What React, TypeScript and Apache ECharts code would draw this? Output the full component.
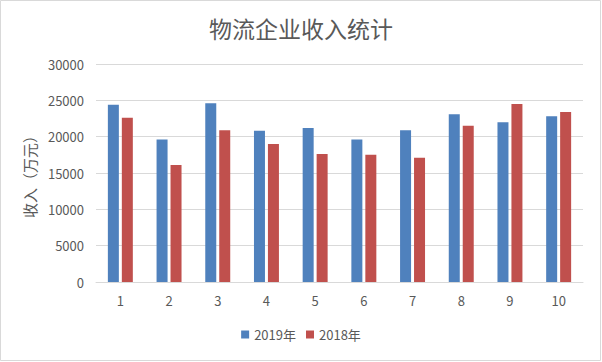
import React, { useEffect, useRef } from "react";
import * as echarts from "echarts";

const categories = ["1", "2", "3", "4", "5", "6", "7", "8", "9", "10"];
const series2019 = [24400, 19600, 24600, 20800, 21200, 19600, 20900, 23100, 22000, 22800];
const series2018 = [22600, 16100, 20900, 19000, 17600, 17500, 17100, 21500, 24500, 23400];
const seriesNames = ["2019年", "2018年"];
const titleText = "物流企业收入统计";
const yAxisName = "收入（万元）";

const FONT = "'Noto Sans CJK SC', 'Microsoft YaHei', sans-serif";

export default function App() {
  const ref = useRef<HTMLDivElement>(null);
  useEffect(() => {
    if (!ref.current) return;
    const chart = echarts.init(ref.current, null, { renderer: "svg" });
    chart.setOption({
      animation: false,
      backgroundColor: "#ffffff",
      textStyle: { fontFamily: FONT },
      title: {
        text: titleText,
        left: "center",
        top: 11,
        textStyle: { fontSize: 23, fontWeight: "normal", color: "#595959", fontFamily: FONT },
      },
      graphic: [
        {
          type: "rect",
          shape: { x: 0.5, y: 0.5, width: 600, height: 360 },
          style: { fill: "none", stroke: "#d9d9d9", lineWidth: 1 },
          silent: true,
        },
      ],
      legend: {
        bottom: 16,
        left: "center",
        itemWidth: 8,
        itemHeight: 8,
        itemGap: 10,
        icon: "rect",
        textStyle: { fontSize: 13, color: "#595959", fontFamily: FONT },
        data: seriesNames,
      },
      grid: { left: 96, right: 19, top: 64, bottom: 80 },
      xAxis: {
        type: "category",
        data: categories,
        axisLine: { lineStyle: { color: "#d9d9d9" } },
        axisTick: { show: false },
        axisLabel: { color: "#595959", fontSize: 13, margin: 12 },
      },
      yAxis: {
        type: "value",
        min: 0,
        max: 30000,
        interval: 5000,
        name: yAxisName,
        nameLocation: "middle",
        nameGap: 52,
        nameTextStyle: { fontSize: 15, color: "#595959", fontFamily: FONT },
        axisLine: { show: false },
        axisTick: { show: false },
        axisLabel: {
          color: "#595959",
          fontSize: 13,
          margin: 12,
          formatter: (v: number) => String(v),
        },
        splitLine: { lineStyle: { color: "#d9d9d9", width: 1 } },
      },
      series: [
        {
          name: seriesNames[0],
          type: "bar",
          data: series2019,
          barWidth: 11,
          barGap: "27%",
          itemStyle: { color: "#4F81BD" },
        },
        {
          name: seriesNames[1],
          type: "bar",
          data: series2018,
          barWidth: 11,
          itemStyle: { color: "#C0504D" },
        },
      ],
    });
    return () => chart.dispose();
  }, []);
  return (
    <div
      ref={ref}
      style={{ position: "fixed", left: 0, top: 0, width: 602, height: 362 }}
    />
  );
}
